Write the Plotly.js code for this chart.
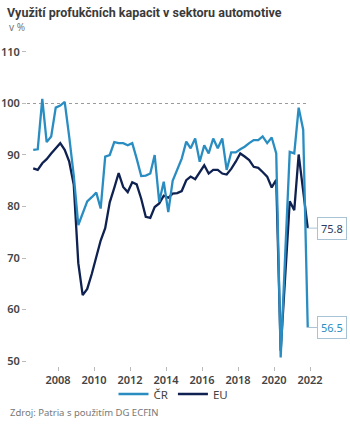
<!DOCTYPE html>
<html>
<head>
<meta charset="utf-8">
<script src="https://cdn.plot.ly/plotly-3.0.1.min.js"></script>
<style>
  html, body { margin: 0; padding: 0; background: #fff; }
  #chart { width: 350px; height: 428px; }
</style>
</head>
<body>
<div id="chart"></div>
<script>
// Quarters (observations plotted at the middle of each quarter)
var quarters = [
  "2006Q3","2006Q4",
  "2007Q1","2007Q2","2007Q3","2007Q4",
  "2008Q1","2008Q2","2008Q3","2008Q4",
  "2009Q1","2009Q2","2009Q3","2009Q4",
  "2010Q1","2010Q2","2010Q3","2010Q4",
  "2011Q1","2011Q2","2011Q3","2011Q4",
  "2012Q1","2012Q2","2012Q3","2012Q4",
  "2013Q1","2013Q2","2013Q3","2013Q4",
  "2014Q1","2014Q2","2014Q3","2014Q4",
  "2015Q1","2015Q2","2015Q3","2015Q4",
  "2016Q1","2016Q2","2016Q3","2016Q4",
  "2017Q1","2017Q2","2017Q3","2017Q4",
  "2018Q1","2018Q2","2018Q3","2018Q4",
  "2019Q1","2019Q2","2019Q3","2019Q4",
  "2020Q1","2020Q2","2020Q3","2020Q4",
  "2021Q1","2021Q2","2021Q3","2021Q4"
];

// Capacity utilisation, Czech Republic (%)
var cr = [
  91.0, 91.1,
  100.9, 92.5, 93.6, 99.2,
  99.6, 100.3, 93.5, 86.0,
  76.4, 78.8, 81.0, 81.8,
  82.7, 79.6, 89.7, 90.0,
  92.5, 92.3, 92.3, 91.9,
  92.3, 89.3, 85.9, 86.0,
  86.4, 90.0, 80.9, 84.8,
  78.9, 85.0, 87.0, 89.3,
  92.6, 91.3, 93.2, 88.7,
  91.9, 90.3, 93.2, 91.3,
  93.2, 87.1, 90.5, 90.5,
  91.1, 91.6, 92.3, 92.9,
  92.9, 93.6, 92.3, 93.4,
  90.3, 50.7, 70.7, 90.6,
  90.3, 99.2, 94.9, 56.5
];

// Capacity utilisation, EU (%)
var eu = [
  87.4, 87.1,
  88.4, 89.2, 90.3, 91.4,
  92.3, 91.0, 88.7, 84.2,
  69.0, 62.8, 64.0, 66.9,
  70.2, 73.4, 75.8, 80.8,
  83.6, 86.5, 83.8, 82.8,
  84.7, 84.3, 81.5, 78.0,
  77.8, 79.9, 80.6, 82.1,
  81.7, 82.5, 82.6, 83.0,
  85.1, 85.8, 85.3, 86.7,
  88.0, 86.4, 87.1, 87.1,
  86.4, 86.2, 87.3, 88.7,
  90.3, 89.7, 89.0, 87.7,
  87.5, 86.7, 85.8, 83.7,
  85.2, 52.0, 66.3, 81.0,
  79.3, 90.1, 83.0, 75.8
];

var seriesNames = ["ČR", "EU"];
var yTicks = [50, 60, 70, 80, 90, 100, 110];
var fullLevel = 100;

var midMonth = {"1": "02-15", "2": "05-15", "3": "08-15", "4": "11-15"};
var dates = quarters.map(function (q) {
  return q.slice(0, 4) + "-" + midMonth[q.slice(5)];
});
var lastDate = dates[dates.length - 1];

var CR_COLOR = "#2a8dc2";
var EU_COLOR = "#0e2150";
var FONT = "Noto Sans, Open Sans, sans-serif";
var TITLE_FONT = "Roboto, Noto Sans, sans-serif";

var traces = [
  {
    x: dates, y: eu, name: seriesNames[1], type: "scatter", mode: "lines",
    line: {color: EU_COLOR, width: 2.3}, legendrank: 2, hoverinfo: "x+y+name"
  },
  {
    x: dates, y: cr, name: seriesNames[0], type: "scatter", mode: "lines",
    line: {color: CR_COLOR, width: 2.3}, legendrank: 1, hoverinfo: "x+y+name"
  }
];

var layout = {
  width: 350, height: 428,
  margin: {l: 27, r: 30, t: 44, b: 62},
  paper_bgcolor: "#ffffff", plot_bgcolor: "#ffffff",
  font: {family: FONT, color: "#444", size: 11},
  title: {
    text: "<b>Využití profukčních kapacit v sektoru automotive</b>",
    font: {family: TITLE_FONT, size: 12.5, color: "#3a3a3a"},
    x: 7 / 350, xanchor: "left", xref: "container",
    y: 1 - 13 / 428, yanchor: "middle", yref: "container"
  },
  xaxis: {
    type: "date",
    range: ["2006-04-11", "2022-07-22"],
    tick0: "2008-01-01", dtick: "M24", tickformat: "%Y",
    ticks: "outside", ticklen: 4, tickcolor: "#bbbbbb", tickwidth: 1,
    showgrid: false, zeroline: false, showline: false,
    tickfont: {family: FONT, size: 11, color: "#444", weight: 600},
    fixedrange: true
  },
  yaxis: {
    range: [49.03, 111.55],
    tickvals: yTicks, ticktext: yTicks.map(String),
    ticks: "outside", ticklen: 4, tickcolor: "#bbbbbb", tickwidth: 1,
    showgrid: false, zeroline: false, showline: false,
    tickfont: {family: FONT, size: 11, color: "#444", weight: 600},
    fixedrange: true
  },
  showlegend: true,
  legend: {
    orientation: "h", x: 0.5, xanchor: "center", y: -0.087, yanchor: "middle",
    font: {family: FONT, size: 11.5, color: "#444"},
    itemwidth: 30, tracegroupgap: 0, bgcolor: "rgba(0,0,0,0)"
  },
  shapes: [
    {
      type: "line", xref: "x", yref: "y",
      x0: "2006-04-11", x1: lastDate, y0: fullLevel, y1: fullLevel,
      line: {color: "#9a9a9a", width: 1, dash: "dot"}, layer: "below"
    }
  ],
  annotations: [
    {
      text: "v %", xref: "paper", yref: "paper",
      x: -20 / 293, xanchor: "left", y: 1 + (44 - 27) / 322, yanchor: "middle",
      showarrow: false, font: {family: FONT, size: 10, color: "#777"}
    },
    {
      text: "Zdroj: Patria s použitím DG ECFIN", xref: "paper", yref: "paper",
      x: -19 / 293, xanchor: "left", y: -(412 - 366) / 322, yanchor: "middle",
      showarrow: false, font: {family: FONT, size: 9.5, color: "#777"}
    },
    {
      x: lastDate, y: eu[eu.length - 1], xref: "x", yref: "y",
      text: eu[eu.length - 1].toFixed(1),
      showarrow: true, arrowhead: 0, arrowwidth: 1, arrowcolor: "#a9c3d6",
      ax: 24, ay: 0, standoff: 0,
      bordercolor: "#a9c3d6", borderwidth: 1, borderpad: 3, bgcolor: "#ffffff",
      font: {family: FONT, size: 11, color: "#2c3b5e"}
    },
    {
      x: lastDate, y: cr[cr.length - 1], xref: "x", yref: "y",
      text: cr[cr.length - 1].toFixed(1),
      showarrow: true, arrowhead: 0, arrowwidth: 1, arrowcolor: "#a9c3d6",
      ax: 24, ay: 0, standoff: 0,
      bordercolor: "#a9c3d6", borderwidth: 1, borderpad: 3, bgcolor: "#ffffff",
      font: {family: FONT, size: 11, color: CR_COLOR}
    }
  ]
};

Plotly.newPlot("chart", traces, layout, {displayModeBar: false, staticPlot: true});
</script>
</body>
</html>
